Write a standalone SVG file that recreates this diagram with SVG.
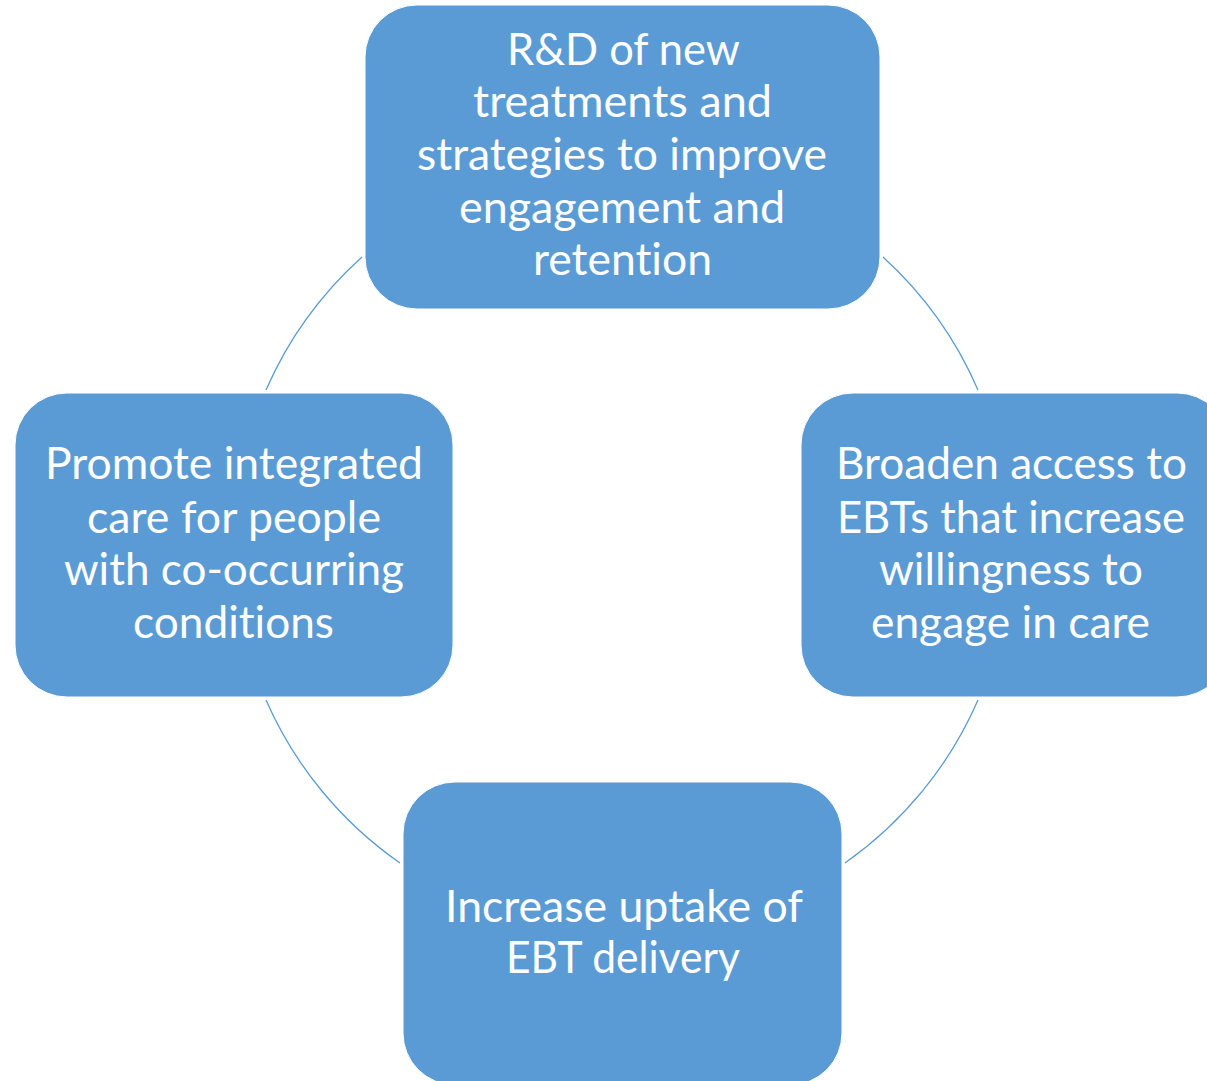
<svg xmlns="http://www.w3.org/2000/svg" width="1207" height="1081" viewBox="0 0 1207 1081">
  <style>
    .box { fill: #5B9BD5; stroke: #ffffff; stroke-width: 1; }
    .lbl { font-family: Lato, "Liberation Sans", sans-serif; font-size: 45px; fill: #ffffff; text-anchor: start; font-variant-ligatures: none; font-feature-settings: "liga" 0, "clig" 0; }
    .arc { fill: none; stroke: #5B9BD5; stroke-width: 1.3; }
  </style>
  <rect width="1207" height="1081" fill="#ffffff"/>
  <g id="connectors">
    <path class="arc" d="M 883 257 A 388 388 0 0 1 978 390"/>
    <path class="arc" d="M 978 700 A 388 388 0 0 1 845 863"/>
    <path class="arc" d="M 400 863 A 388 388 0 0 1 266 700"/>
    <path class="arc" d="M 266 390 A 388 388 0 0 1 362 257"/>
  </g>
  <g id="node-top">
    <rect class="box" x="365" y="5" width="515" height="304" rx="52" ry="52"/>
    <text class="lbl">
      <tspan x="507" y="65" textLength="232" lengthAdjust="spacingAndGlyphs">R&amp;D of new</tspan>
      <tspan x="473" y="117" textLength="299" lengthAdjust="spacingAndGlyphs">treatments and</tspan>
      <tspan x="417" y="170" textLength="410" lengthAdjust="spacingAndGlyphs">strategies to improve</tspan>
      <tspan x="459" y="223" textLength="326" lengthAdjust="spacingAndGlyphs">engagement and</tspan>
      <tspan x="533" y="275" textLength="179" lengthAdjust="spacingAndGlyphs">retention</tspan>
    </text>
  </g>
  <g id="node-right">
    <rect class="box" x="801" y="393" width="428" height="304" rx="52" ry="52"/>
    <text class="lbl">
      <tspan x="836" y="479" textLength="351" lengthAdjust="spacingAndGlyphs">Broaden access to</tspan>
      <tspan x="837" y="533" textLength="348" lengthAdjust="spacingAndGlyphs">EBTs that increase</tspan>
      <tspan x="879" y="585" textLength="264" lengthAdjust="spacingAndGlyphs">willingness to</tspan>
      <tspan x="871" y="638" textLength="279" lengthAdjust="spacingAndGlyphs">engage in care</tspan>
    </text>
  </g>
  <g id="node-bottom">
    <rect class="box" x="403" y="782" width="439" height="303" rx="52" ry="52"/>
    <text class="lbl">
      <tspan x="445" y="922" textLength="357" lengthAdjust="spacingAndGlyphs">Increase uptake of</tspan>
      <tspan x="506" y="973" textLength="234" lengthAdjust="spacingAndGlyphs">EBT delivery</tspan>
    </text>
  </g>
  <g id="node-left">
    <rect class="box" x="15" y="393" width="438" height="304" rx="52" ry="52"/>
    <text class="lbl">
      <tspan x="45" y="479" textLength="378" lengthAdjust="spacingAndGlyphs">Promote integrated</tspan>
      <tspan x="87" y="533" textLength="294" lengthAdjust="spacingAndGlyphs">care for people</tspan>
      <tspan x="64" y="585" textLength="340" lengthAdjust="spacingAndGlyphs">with co-occurring</tspan>
      <tspan x="133" y="638" textLength="201" lengthAdjust="spacingAndGlyphs">conditions</tspan>
    </text>
  </g>
</svg>
